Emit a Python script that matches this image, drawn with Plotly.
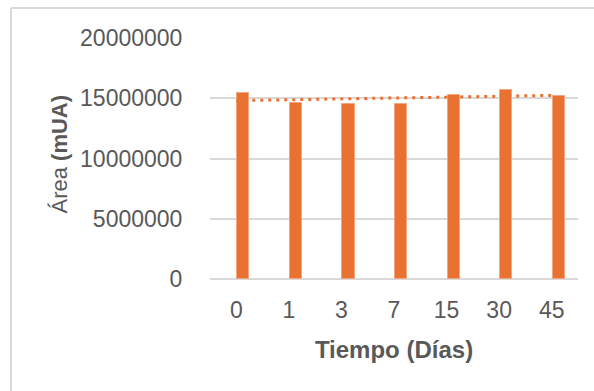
import numpy as np
import plotly.graph_objects as go

# Chromatographic peak area over storage time
dias = ["0", "1", "3", "7", "15", "30", "45"]
area = [15450000, 14590000, 14510000, 14510000, 15260000, 15650000, 15170000]

# Linear trend over category positions
idx = np.arange(len(dias))
pendiente, intercepto = np.polyfit(idx, area, 1)
tendencia = pendiente * idx + intercepto

NARANJA = "#E97132"
GRIS_TEXTO = "#595959"
GRIS_REJILLA = "#D9D9D9"
FUENTE = "Liberation Sans, Arial, sans-serif"

fig = go.Figure()
fig.add_trace(go.Bar(
    x=idx, y=area,
    marker=dict(color=NARANJA, line=dict(color="#F2A77E", width=1)),
    width=0.23, offset=0.02,
    showlegend=False,
))
fig.add_trace(go.Scatter(
    x=idx, y=tendencia, mode="lines",
    line=dict(color=NARANJA, width=3, dash="3px,5px"),
    showlegend=False,
))

W, H = 594, 391
L, R, T, B = 210, 16, 38, 112
pw, ph = W - L - R, H - T - B

def px_x(p):
    return (p - L) / pw

def px_y(p):
    return (H - B - p) / ph

fig.update_layout(
    width=W, height=H,
    margin=dict(l=L, r=R, t=T, b=B),
    paper_bgcolor="white", plot_bgcolor="white",
    font=dict(family=FUENTE, color=GRIS_TEXTO, size=23),
    bargap=0,
    xaxis=dict(
        tickmode="array", tickvals=idx, ticktext=dias,
        range=[-0.5, len(dias) - 0.5],
        showgrid=False, zeroline=False, showline=False,
        ticks="outside", ticklen=10, tickcolor="rgba(0,0,0,0)",
        tickfont=dict(size=23, color=GRIS_TEXTO),
        title=dict(text="<b>Tiempo (Días)</b>", font=dict(size=24, color=GRIS_TEXTO), standoff=19),
    ),
    yaxis=dict(
        range=[0, 20000000],
        tickvals=[0, 5000000, 10000000, 15000000, 20000000],
        ticktext=["0", "5000000", "10000000", "15000000", "20000000"],
        showgrid=True, gridcolor=GRIS_REJILLA, gridwidth=1.5,
        zeroline=True, zerolinecolor=GRIS_REJILLA, zerolinewidth=1.5,
        showline=False,
        ticks="outside", ticklen=22, tickcolor="rgba(0,0,0,0)",
        tickfont=dict(size=23, color=GRIS_TEXTO),
    ),
    annotations=[dict(
        text="Área <b>(mUA)</b>", textangle=-90,
        xref="paper", yref="paper", x=px_x(58.5), y=px_y(154),
        xanchor="center", yanchor="middle", showarrow=False,
        font=dict(size=22, color=GRIS_TEXTO),
    )],
    shapes=[
        dict(type="line", xref="paper", yref="paper",
             x0=px_x(11), x1=px_x(11), y0=px_y(8), y1=px_y(400),
             line=dict(color=GRIS_REJILLA, width=2)),
        dict(type="line", xref="paper", yref="paper",
             x0=px_x(11), x1=px_x(600), y0=px_y(8), y1=px_y(8),
             line=dict(color=GRIS_REJILLA, width=2)),
    ],
)

fig.write_html("out.html")
